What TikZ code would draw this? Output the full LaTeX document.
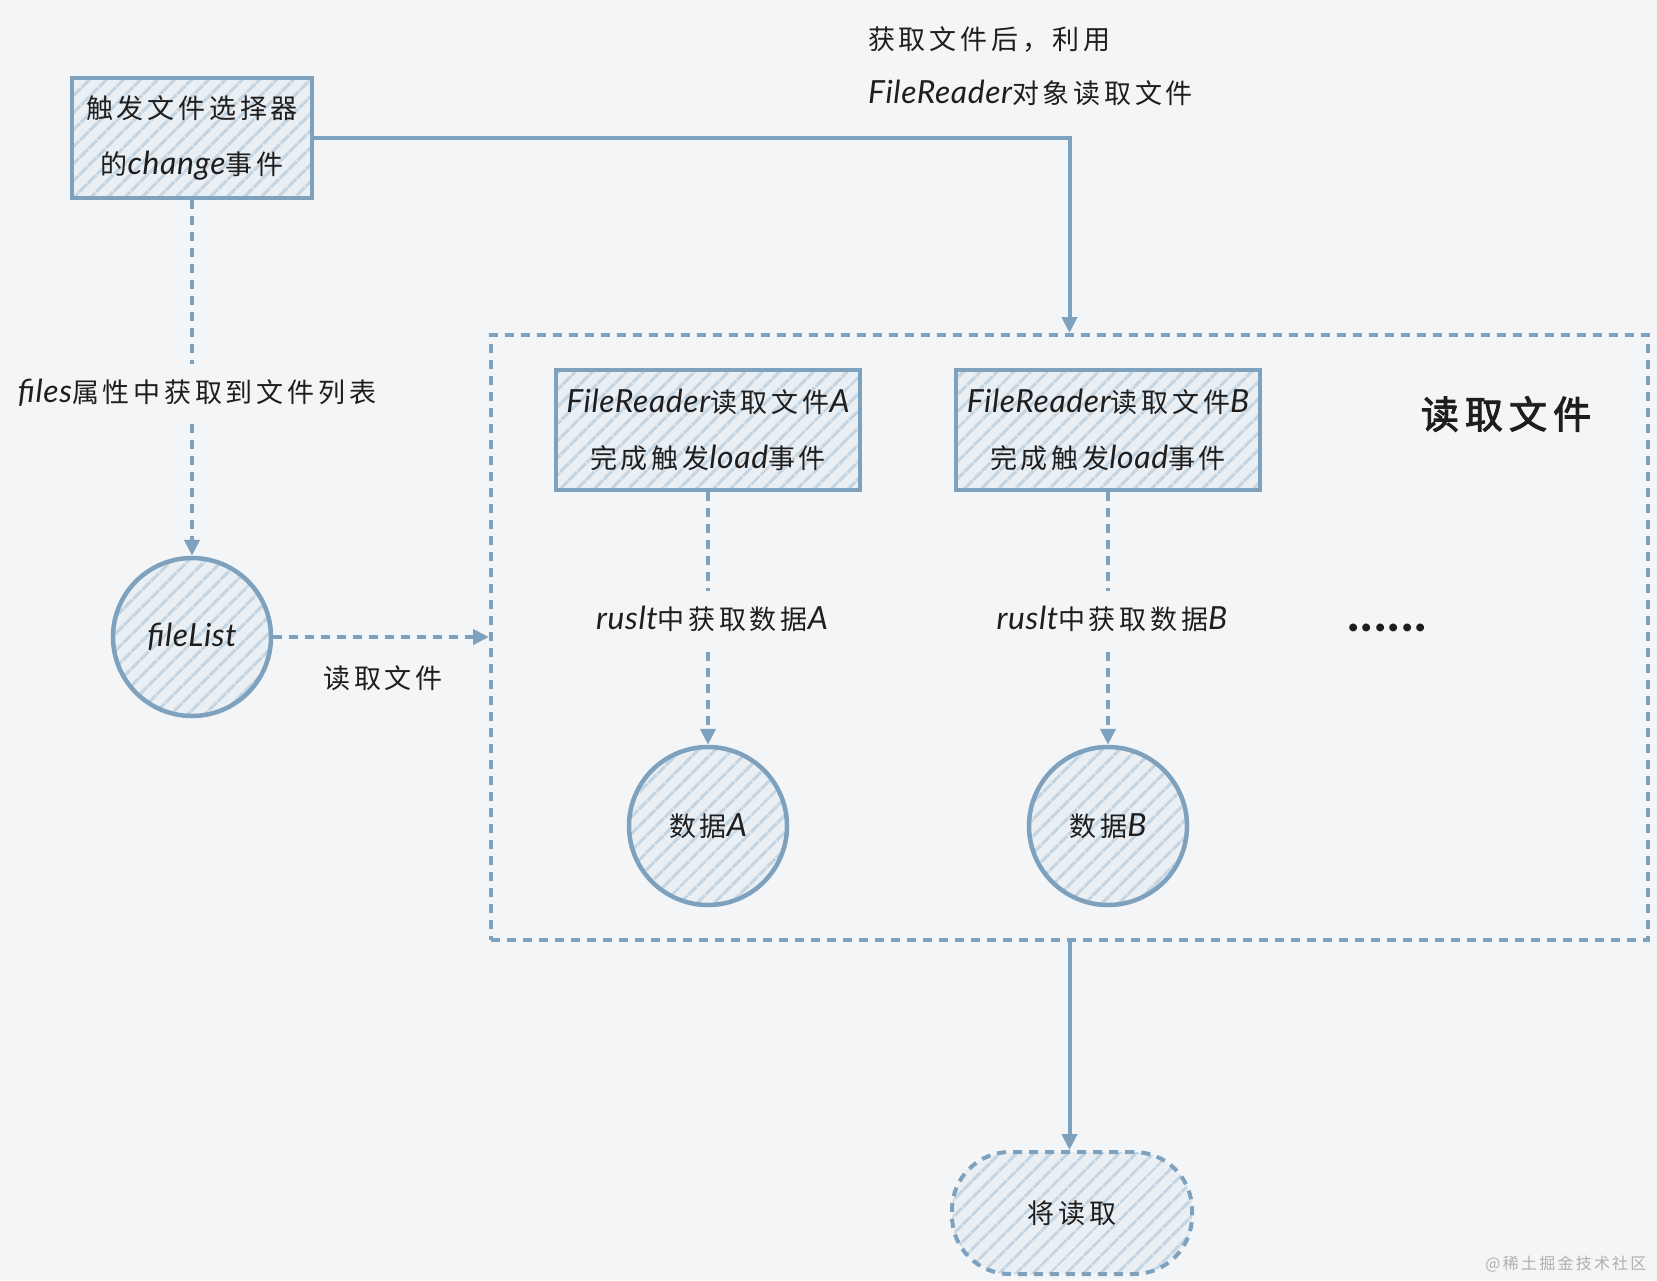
\documentclass[tikz,border=0pt]{standalone}
\usepackage{fontspec}
\setmainfont{Noto Sans CJK SC}[LetterSpace=14]
\newfontfamily\latf{Lato}[Scale=1.18,LetterSpace=2]
\newfontfamily\boldcjk{Noto Sans CJK SC}[FakeBold=2.5,LetterSpace=16]
\usetikzlibrary{arrows.meta,patterns.meta,shapes.geometric}
\definecolor{bg}{RGB}{244,245,247}
\definecolor{edge}{RGB}{126,161,190}
\definecolor{fillc}{RGB}{234,239,244}
\definecolor{hatch}{RGB}{198,213,226}
\definecolor{ink}{RGB}{30,30,30}
\definecolor{wmark}{RGB}{175,175,175}
\newcommand\lt[1]{{\latf\itshape #1}}
\begin{document}
\begin{tikzpicture}[x=1pt,y=-1pt,
  hatched/.style={preaction={fill=fillc}, pattern={Lines[angle=45,distance=13pt,line width=3.5pt]}, pattern color=hatch},
  procbox/.style={draw=edge, line width=4.5pt, hatched, text=ink, inner sep=0pt,
    font=\fontsize{27}{56}\selectfont, align=center},
  circnode/.style={circle, draw=edge, line width=4.5pt, hatched, text=ink, inner sep=0pt,
    minimum size=158pt, font=\fontsize{27}{30}\selectfont},
  flow/.style={draw=edge, line width=4pt, -{Triangle[length=16pt,width=15pt]}},
  dflow/.style={flow, dash pattern=on 9pt off 7pt},
  lbl/.style={text=ink, font=\fontsize{27}{54}\selectfont, align=left, inner xsep=2pt, inner ysep=2pt},
  gaplbl/.style={lbl, fill=bg, inner ysep=15pt},
  framebox/.style={draw=edge, line width=4pt, dash pattern=on 9pt off 7pt, inner sep=0pt}
]
\useasboundingbox (0,0) rectangle (1657,1280);
\fill[bg] (0,0) rectangle (1657,1280);

% nodes
\node[procbox, minimum width=240pt, minimum height=120pt] (box1) at (192,138)
  {触发文件选择器\\的\lt{change}事件};
\node[circnode] (fl) at (192,637) {\lt{fileList}};
\node[framebox, minimum width=1157pt, minimum height=605pt] (frame) at (1069.5,637.5) {};
\node[procbox, minimum width=304pt, minimum height=120pt] (boxA) at (708,430)
  {\lt{FileReader}读取文件\lt{A}\\完成触发\lt{load}事件};
\node[procbox, minimum width=304pt, minimum height=120pt] (boxB) at (1108,430)
  {\lt{FileReader}读取文件\lt{B}\\完成触发\lt{load}事件};
\node[circnode] (cA) at (708,826) {数据\lt{A}};
\node[circnode] (cB) at (1108,826) {数据\lt{B}};
\node[draw=edge, line width=4pt, dash pattern=on 9pt off 7pt, hatched, rounded corners=58pt,
  minimum width=240pt, minimum height=122pt, text=ink, font=\fontsize{27}{30}\selectfont]
  (done) at (1072,1213) {将读取};

% labels
\node[lbl, align=left, anchor=west] (toplbl) at (866,66)
  {获取文件后，利用\\\lt{FileReader}对象读取文件};
\node[text=ink, font=\fontsize{38}{40}\selectfont\boldcjk] (title) at (1506,414) {读取文件};
\node[text=ink, font=\fontsize{44}{48}\selectfont\latf\bfseries] (dots) at (1387,628) {......};

% connectors
\draw[flow] (box1.east) -| (frame.north);
\draw[dflow] (box1.south) -- (fl.north);
\node[gaplbl] (lfiles) at (197,393) {\lt{files}属性中获取到文件列表};
\draw[dflow] (fl.east) -- (frame.west |- fl.east);
\node[lbl] (lread) at (383,678) {读取文件};
\draw[dflow] (boxA.south) -- (cA.north);
\node[gaplbl] (lA) at (712,619) {\lt{ruslt}中获取数据\lt{A}};
\draw[dflow] (boxB.south) -- (cB.north);
\node[gaplbl] (lB) at (1112,619) {\lt{ruslt}中获取数据\lt{B}};
\draw[flow] (frame.south) -- (frame.south |- done.north);

\node[text=wmark, font=\fontsize{16}{20}\selectfont, anchor=east] (wm) at (1650,1264) {@稀土掘金技术社区};
\end{tikzpicture}
\end{document}
